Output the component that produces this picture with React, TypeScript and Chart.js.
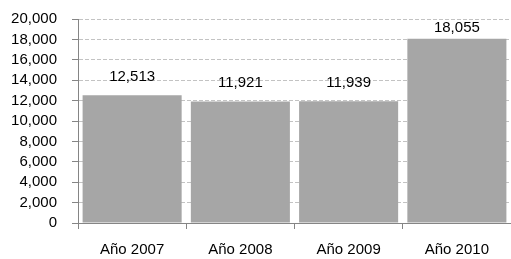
import React, { useEffect, useRef } from "react";
import { Chart, registerables } from "chart.js";

Chart.register(...registerables);

const categories = ["Año 2007", "Año 2008", "Año 2009", "Año 2010"];
const values = [12513, 11921, 11939, 18055];
const yMin = 0;
const yMax = 20000;
const yStep = 2000;

const FONT = "'Liberation Sans', Arial, Helvetica, sans-serif";

const fmt = (v: number) => v.toLocaleString("en-US");

const dataLabels = {
  id: "dataLabels",
  afterDatasetsDraw(chart: any) {
    const ctx = chart.ctx;
    const meta = chart.getDatasetMeta(0);
    ctx.save();
    ctx.font = `15px ${FONT}`;
    ctx.fillStyle = "#000";
    ctx.textAlign = "center";
    ctx.textBaseline = "alphabetic";
    meta.data.forEach((bar: any, i: number) => {
      const y = Math.max(bar.y - 14, chart.chartArea.top + 13);
      ctx.fillText(fmt(values[i]), bar.x, y);
    });
    ctx.restore();
  },
};

export default function App() {
  const ref = useRef<HTMLCanvasElement | null>(null);
  useEffect(() => {
    document.body.style.margin = "0";
    const chart = new Chart(ref.current!, {
      type: "bar",
      data: {
        labels: categories,
        datasets: [
          {
            data: values,
            backgroundColor: "#a6a6a6",
            borderWidth: 0,
            barPercentage: 0.915,
            categoryPercentage: 1,
          },
        ],
      },
      options: {
        animation: false,
        responsive: false,
        layout: { padding: { top: 19, right: 0, left: 0, bottom: 0 } },
        plugins: { legend: { display: false }, tooltip: { enabled: false } },
        scales: {
          x: {
            offset: true,
            grid: {
              display: true,
              offset: true,
              drawOnChartArea: false,
              drawTicks: true,
              tickLength: 6,
              tickColor: "#858585",
            },
            border: { color: "#858585", width: 1 },
            ticks: {
              color: "#000",
              font: { family: FONT, size: 15 },
              padding: 12,
              maxRotation: 0,
              autoSkip: false,
            },
            afterFit: (s: any) => {
              s.height = 36;
              s.paddingLeft = 0;
              s.paddingRight = 0;
            },
          },
          y: {
            min: yMin,
            max: yMax,
            grid: {
              color: "#c3c3c3",
              tickColor: "#858585",
              tickLength: 6,
            },
            border: { color: "#858585", width: 1, dash: [4, 2] },
            ticks: {
              stepSize: yStep,
              autoSkip: false,
              color: "#000",
              font: { family: FONT, size: 15 },
              padding: 15,
              callback: (v: any) => fmt(Number(v)),
            },
            afterFit: (s: any) => {
              s.width = 78;
              s.paddingTop = 0;
              s.paddingBottom = 0;
            },
          },
        },
      },
      plugins: [dataLabels],
    });
    return () => chart.destroy();
  }, []);
  return (
    <div style={{ position: "absolute", left: 0, top: 0, width: 511, height: 259 }}>
      <canvas ref={ref} width={511} height={259} />
    </div>
  );
}
